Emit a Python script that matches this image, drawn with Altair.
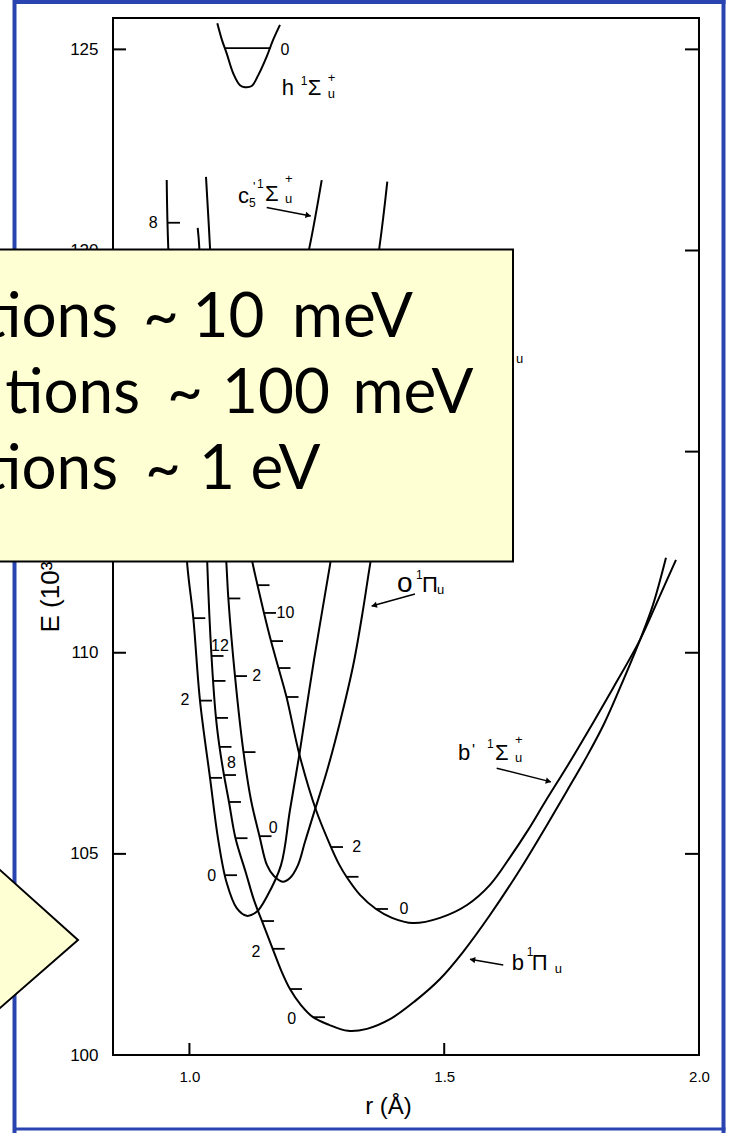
import math
import altair as alt
import pandas as pd

# ---------------------------------------------------------------
# Potential-energy curves of N2 singlet-ungerade states
# r in Angstrom, E in 10^3 cm^-1
# ---------------------------------------------------------------
h_r = [1.0547, 1.0639, 1.0731, 1.0861, 1.0992, 1.1090, 1.1222, 1.1351, 1.1516, 1.1640, 1.1777]
h_E = [125.65, 125.23, 124.90, 124.40, 124.11, 124.06, 124.09, 124.36, 124.82, 125.23, 125.61]

c4_r = [0.9554, 0.9585, 0.9776, 0.9958, 1.0076, 1.0207, 1.0404, 1.0566, 1.0731, 1.0928, 1.1124,
        1.1320, 1.1516, 1.1797, 1.1973, 1.2156, 1.2444, 1.2758, 1.3249, 1.3726, 1.3883]
c4_E = [121.75, 120.06, 115.79, 112.18, 110.86, 108.81, 106.89, 105.34, 104.28, 103.65, 103.46,
        103.56, 103.93, 104.72, 106.09, 107.46, 109.82, 112.18, 116.28, 120.06, 121.71]

c5_r = [1.1581, 1.1973, 1.2352, 1.2596]
c5_E = [115.79, 118.02, 120.06, 121.75]

b_r = [1.0162, 1.0194, 1.0276, 1.0351, 1.0433, 1.0521, 1.0590, 1.0678, 1.0776, 1.0904, 1.1110,
       1.1267, 1.1424, 1.1634, 1.1797, 1.1973, 1.2189, 1.2425, 1.2739, 1.3112, 1.3484, 1.3936,
       1.4426, 1.4917, 1.5368, 1.5898, 1.6507, 1.7017, 1.7429, 1.7802, 1.8135, 1.8430, 1.8842,
       1.9097, 1.9352]
b_E = [120.56, 120.06, 115.79, 112.18, 109.92, 108.38, 107.66, 106.96, 106.29, 105.39, 104.52,
       103.85, 103.33, 102.64, 102.11, 101.64, 101.24, 100.94, 100.75, 100.60, 100.65, 100.89,
       101.34, 101.89, 102.56, 103.48, 104.65, 105.72, 106.61, 107.43, 108.23, 109.07, 110.32,
       111.19, 112.36]

o_r = [1.0325, 1.0404, 1.0561, 1.0727, 1.0763, 1.0894, 1.1061, 1.1208, 1.1375, 1.1522, 1.1659,
       1.1830, 1.1973, 1.2130, 1.2268, 1.2431, 1.2694, 1.2955, 1.3216, 1.3412, 1.3543, 1.3700, 1.3838]
o_E = [121.83, 120.06, 115.79, 112.18, 111.36, 109.42, 107.53, 106.34, 105.44, 104.72, 104.45,
       104.31, 104.40, 104.72, 105.30, 105.97, 107.04, 108.28, 109.70, 111.11, 112.18, 113.30, 114.29]

bp_r = [1.0992, 1.1247, 1.1336, 1.1463, 1.1601, 1.1748, 1.1905, 1.2160, 1.2484, 1.2778, 1.2945,
        1.3082, 1.3347, 1.3661, 1.3975, 1.4387, 1.4917, 1.5447, 1.5898, 1.6310, 1.6644, 1.6978,
        1.7429, 1.7861, 1.8312, 1.8842, 1.9195, 1.9548]
bp_E = [113.80, 112.18, 111.68, 110.99, 110.29, 109.62, 108.90, 107.46, 106.09, 105.17, 104.72,
        104.43, 103.98, 103.63, 103.41, 103.28, 103.41, 103.73, 104.23, 104.95, 105.59, 106.29,
        107.21, 108.13, 109.12, 110.32, 111.31, 112.31]

# vibrational level marks (left end of each mark on the curve)
lvl_r = [1.0698, 1.0404, 1.0207, 1.0076, 0.9579,
         1.0433, 1.0472, 1.0521, 1.0590, 1.0678, 1.0776, 1.0904, 1.1424, 1.1634, 1.1973, 1.2425,
         1.0763, 1.0894, 1.1061, 1.1375,
         1.1336, 1.1463, 1.1601, 1.1748, 1.1905, 1.2778, 1.3082, 1.3661]
lvl_E = [104.47, 106.89, 108.81, 110.86, 120.69,
         109.92, 109.30, 108.38, 107.66, 106.96, 106.29, 105.39, 103.33, 102.64, 101.64, 100.94,
         111.35, 109.42, 107.53, 105.44,
         111.68, 110.99, 110.29, 109.62, 108.90, 105.17, 104.43, 103.63]
# v = 0 level of the h state
h_lvl_r = [1.068, 1.159]
h_lvl_E = 125.03

# vibrational quantum-number labels
vib_text = ["0", "2", "8", "12", "8", "2", "0", "2", "0", "10", "2", "0", "0"]
vib_r = [1.0437, 0.9913, 0.9291, 1.0600, 1.0825, 1.1306, 1.2007, 1.1320, 1.1646, 1.1885, 1.3282, 1.4211, 1.1875]
vib_E = [104.45, 108.83, 120.69, 110.17, 107.26, 102.57, 100.89, 109.41, 105.64, 110.99, 105.18, 103.63, 124.98]

# state designations: anchor (r, E) of each label
state_anchor = {
    "h": (1.1811, 123.87),
    "c5": (1.0953, 121.18),
    "o": (1.4093, 111.51),
    "bp": (1.5270, 107.33),
    "b": (1.6324, 102.11),
    "hid": (1.6408, 117.20),
}
# pointer arrows from the labels to their curves: (r1, E1, r2, E2)
pointer = [
    (1.1516, 121.07, 1.2380, 120.86),
    (1.4426, 111.46, 1.3577, 111.16),
    (1.6030, 107.13, 1.7095, 106.79),
    (1.6159, 102.24, 1.5506, 102.38),
]

# callout text
box_words = [
    ["tions", "~", "10", "meV"],
    ["tions", "~", "100", "meV"],
    ["tions", "~", "1", "eV"],
]

# ---------------------------------------------------------------
# layout
# ---------------------------------------------------------------
W, H = 586, 1037
LEFT, TOP = 113, 18
R_DOM = [0.85, 2.0]
E_DOM = [100.0, 125.78]
SX = W / (R_DOM[1] - R_DOM[0])
SY = H / (E_DOM[1] - E_DOM[0])

LF = "Liberation Sans Narrow, Liberation Sans, Arial, sans-serif"
BIG = "Lato, Open Sans, sans-serif"
BLUE = "#2944b0"
YEL = "#ffffd4"


def r_at(px):
    return R_DOM[0] + (px - LEFT) / SX


def e_at(py):
    return E_DOM[1] - (py - TOP) / SY


x_axis = alt.Axis(values=[1.0, 1.5, 2.0], format=".1f", ticks=False, tickSize=0, domain=False,
                  grid=False, labelFont=LF, labelFontSize=15, labelPadding=14, labelFlush=False,
                  labelColor="black", title="r (Å)", titleFont=LF, titleFontSize=24,
                  titleFontWeight="normal", titleColor="black", titleX=275, titleY=58,
                  titleAlign="center", titleBaseline="alphabetic")
y_axis = alt.Axis(values=[100, 105, 110, 115, 120, 125], format="d", ticks=False, tickSize=0,
                  domain=False, grid=False, labelFont=LF, labelFontSize=17, labelPadding=15,
                  labelColor="black", title="E (10³ cm⁻¹)", titleFont=LF, titleFontSize=26,
                  titleFontWeight="normal", titleColor="black", titleAngle=270, titleX=-55,
                  titleY=614, titleAlign="left", titleBaseline="alphabetic")

xs = alt.Scale(domain=R_DOM, nice=False, zero=False)
ys = alt.Scale(domain=E_DOM, nice=False, zero=False)
X = alt.X("r:Q", scale=xs, axis=x_axis)
Y = alt.Y("E:Q", scale=ys, axis=y_axis)

one = pd.DataFrame({"k": [0]})

# ---- slide border ----
border = alt.layer(
    alt.Chart(one).mark_rule(color=BLUE, strokeWidth=4).encode(
        x=alt.value(14.5 - LEFT), y=alt.value(-TOP), y2=alt.value(1133 - TOP)),
    alt.Chart(one).mark_rule(color=BLUE, strokeWidth=4).encode(
        x=alt.value(723.5 - LEFT), y=alt.value(-TOP), y2=alt.value(1133 - TOP)),
    alt.Chart(one).mark_rule(color=BLUE, strokeWidth=4).encode(
        y=alt.value(2 - TOP), x=alt.value(13 - LEFT), x2=alt.value(725.5 - LEFT)),
    alt.Chart(one).mark_rule(color=BLUE, strokeWidth=3).encode(
        y=alt.value(1129 - TOP), x=alt.value(13 - LEFT), x2=alt.value(725.5 - LEFT)),
)

# ---- inward frame ticks ----
fe = pd.DataFrame({"E": [105, 110, 115, 120, 125]})
fr = pd.DataFrame({"r": [1.0, 1.5]})
frame_ticks = alt.layer(
    alt.Chart(fe).mark_rule(color="black", strokeWidth=2).encode(y=Y, x=alt.value(0), x2=alt.value(13)),
    alt.Chart(fe).mark_rule(color="black", strokeWidth=2).encode(y=Y, x=alt.value(W - 14), x2=alt.value(W)),
    alt.Chart(fr).mark_rule(color="black", strokeWidth=2).encode(x=X, y=alt.value(H - 12), y2=alt.value(H)),
)

# ---- curves ----
rows = []
for name, (rs, es) in {"h": (h_r, h_E), "c4": (c4_r, c4_E), "c5": (c5_r, c5_E), "b": (b_r, b_E),
                       "o": (o_r, o_E), "bp": (bp_r, bp_E)}.items():
    for i, (r, e) in enumerate(zip(rs, es)):
        rows.append({"state": name, "i": i, "r": r, "E": e})
curve_df = pd.DataFrame(rows)
curves = alt.Chart(curve_df).mark_line(color="black", strokeWidth=2, interpolate="catmull-rom",
                                       clip=False).encode(x=X, y=Y, detail="state:N", order="i:Q")

# ---- level marks ----
TICK = 12 / SX
lvl_df = pd.DataFrame({"r": lvl_r + [h_lvl_r[0]],
                       "r2": [v + TICK for v in lvl_r] + [h_lvl_r[1]],
                       "E": lvl_E + [h_lvl_E]})
levels = alt.Chart(lvl_df).mark_rule(color="black", strokeWidth=1.8).encode(x=X, x2="r2:Q", y=Y)

vib_df = pd.DataFrame({"t": vib_text, "r": vib_r, "E": vib_E})
vib = alt.Chart(vib_df).mark_text(font=LF, fontSize=16, color="black", align="center",
                                   baseline="middle").encode(x=X, y=Y, text="t:N")

# ---- state labels (pieces placed by pixel offsets from an anchor) ----
pieces = {
    "h": [("h", 0, 0, 22), ("1", 19, -10, 12), ("Σ", 26, 0, 22), ("+", 46, -13, 13), ("u", 46, 3, 13)],
    "c5": [("c", 0, 0, 22), ("5", 11, 4, 12), ("'", 15, -12, 13), ("1", 19, -15, 12),
           ("Σ", 27, -2, 22), ("+", 47, -20, 13), ("u", 47, 0, 13)],
    "o": [("o", -1, 0, 28), ("1", 18, -13, 12), ("Π", 24, 0, 22), ("u", 39, 2, 13)],
    "bp": [("b", 0, 0, 22), ("'", 14, -4, 16), ("1", 29, -12, 12), ("Σ", 37, 0, 22),
           ("+", 57, -16, 13), ("u", 57, 2, 13)],
    "b": [("b", 0, 0, 22), ("1", 15, -14, 12), ("Π", 20, 0, 22), ("u", 43, 3, 13)],
    "hid": [("u", 0, 0, 13)],
}
lab_rows = []
for key, plist in pieces.items():
    ar, ae = state_anchor[key]
    for t, dx, dy, fs in plist:
        lab_rows.append({"t": t, "r": ar + dx / SX, "E": ae - dy / SY, "fs": fs})
labels = alt.Chart(pd.DataFrame(lab_rows)).mark_text(font=LF, color="black", align="left",
                                                     baseline="alphabetic").encode(
    x=X, y=Y, text="t:N", size=alt.Size("fs:Q", scale=None))

# ---- pointer arrows ----
ptr_df = pd.DataFrame(pointer, columns=["r", "E", "r2", "E2"])
head_rows = []
for r1, e1, r2, e2 in pointer:
    dxp, dyp = (r2 - r1) * SX, -(e2 - e1) * SY
    ang = math.degrees(math.atan2(dyp, dxp)) % 360
    L = math.hypot(dxp, dyp)
    back = 2.5
    head_rows.append({"r": r2 - back * dxp / L / SX, "E": e2 + back * dyp / L / SY, "ang": ang})
ptr_lines = alt.Chart(ptr_df).mark_rule(color="black", strokeWidth=1.5).encode(
    x=X, y=Y, x2="r2:Q", y2="E2:Q")
ptr_heads = alt.Chart(pd.DataFrame(head_rows)).mark_point(
    shape="triangle-right", filled=True, size=40, color="black", opacity=1).encode(
    x=X, y=Y, angle=alt.Angle("ang:Q", scale=None))

# ---- callout box ----
box = alt.Chart(one).mark_rect(fill=YEL, stroke="black", strokeWidth=2).encode(
    x=alt.value(-30 - LEFT), x2=alt.value(513 - LEFT), y=alt.value(249.5 - TOP), y2=alt.value(561.5 - TOP))

baselines = [336.5, 413, 488.5]
word_x = [[118, 161, 228.5, 352.5], [140, 185, 276, 413], [118, 163, 217, 285.5]]
first_rows, rest_rows = [], []
for words, xs_px, by in zip(box_words, word_x, baselines):
    for j, (w, px) in enumerate(zip(words, xs_px)):
        row = {"t": w, "r": r_at(px), "E": e_at(by)}
        (first_rows if j == 0 else rest_rows).append(row)
box_first = alt.Chart(pd.DataFrame(first_rows)).mark_text(
    font=BIG, fontSize=62, color="black", align="right", baseline="alphabetic").encode(x=X, y=Y, text="t:N")
box_rest = alt.Chart(pd.DataFrame(rest_rows)).mark_text(
    font=BIG, fontSize=62, color="black", align="center", baseline="alphabetic").encode(x=X, y=Y, text="t:N")

# ---- yellow arrow tip ----
tip = (78, 940)
ax0 = -25
top_y = 870 + (ax0 - 0) * (940 - 870) / 78
bot_y = 1008 - (ax0 - 0) * (1008 - 940) / 78
arrow_fill = pd.DataFrame({"r": [r_at(ax0), r_at(tip[0])],
                           "E": [e_at(top_y), e_at(tip[1])],
                           "E2": [e_at(bot_y), e_at(tip[1])]})
arrow_edge = pd.DataFrame({"i": [0, 1, 2],
                           "r": [r_at(ax0), r_at(tip[0]), r_at(ax0)],
                           "E": [e_at(top_y), e_at(tip[1]), e_at(bot_y)]})
arrow_a = alt.Chart(arrow_fill).mark_area(color=YEL, opacity=1, clip=False).encode(x=X, y=Y, y2="E2:Q")
arrow_l = alt.Chart(arrow_edge).mark_line(color="black", strokeWidth=2, clip=False).encode(
    x=X, y=Y, order="i:Q")

chart = alt.layer(
    border, frame_ticks, curves, levels, vib, labels, ptr_lines, ptr_heads,
    box, box_first, box_rest, arrow_a, arrow_l,
).properties(
    width=W, height=H,
    padding={"left": LEFT, "top": TOP, "right": 729 - LEFT - W, "bottom": 1133 - TOP - H},
    autosize=alt.AutoSizeParams(type="none"),
    background="white",
).configure_view(stroke="black", strokeWidth=2)

chart.save("out.html", embed_options={"renderer": "svg", "actions": False})
